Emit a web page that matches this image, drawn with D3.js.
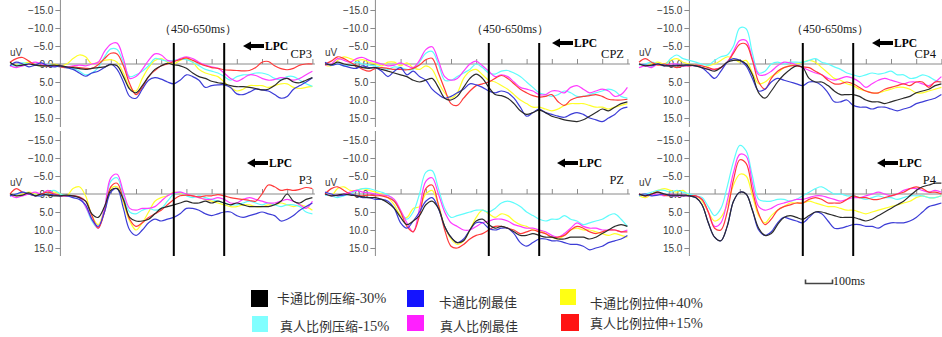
<!DOCTYPE html>
<html>
<head>
<meta charset="utf-8">
<script src="https://cdn.jsdelivr.net/npm/d3@7"></script>
<style>
  body { margin: 0; background: #fff; }
  svg { display: block; }
</style>
</head>
<body>
<svg id="chart" width="942" height="337"></svg>
<script>
// sample times (ms), one value every 25 ms from -200 to 1000
const sampleMs = d3.range(-200, 1001, 25);

// conditions, in the order the series are listed for each channel
const conditions = ['卡通比例压缩-30%', '卡通比例最佳', '卡通比例拉伸+40%',
                    '真人比例压缩-15%', '真人比例最佳', '真人比例拉伸+15%'];
const lineColors = ['#2b2b2b', '#3c3cd6', '#ffff2a', '#5ffcfc', '#ff3cff', '#ff3a3a'];
const swatchColors = ['#000000', '#1414ff', '#ffff14', '#80ffff', '#ff20ff', '#ff1414'];

// amplitudes in uV (positive is drawn downward), per channel: black, blue, yellow, cyan, magenta, red
const CP3 = [
  [-0.5,0.5,0.3,0,0.3,0.5,0.5,0.3,0.5,0.8,1.0,1.3,1.5,1.2,1.0,0.8,0.2,0.5,3.5,7.0,8.0,6.0,3.5,1.5,0.5,-0.2,0.2,0.5,1.2,2.5,3.5,4.0,4.8,5.2,5.5,6.0,6.3,6.3,6.5,6.8,7.2,7.0,6.0,4.5,4.0,5.0,5.2,4.5,3.8],
  [0.5,-0.5,0,0.8,0.3,-0.3,0.5,0.8,0.5,1.0,1.5,2.5,3.4,2.5,2.0,1.0,0,1.5,5.0,9.0,9.5,7.0,4.5,3.8,4.2,5.0,5.5,4.5,3.0,3.5,4.5,6.5,6.0,5.8,5.8,6.5,8.3,8.5,7.8,7.0,7.2,7.5,8.5,9.5,9.0,7.0,6.0,5.0,3.8],
  [0,0.3,0,-0.5,0.3,0.5,0.3,0,0.5,0,-1.5,-2.5,-2.0,0,-0.5,-1.0,-1.2,-0.5,2.5,6.5,7.5,4.0,1.0,-1.0,-1.5,-0.5,0,-1.0,-1.5,-0.5,1.5,2.5,3.0,3.5,5.0,6.5,7.5,7.0,6.0,6.0,6.0,6.5,6.0,5.5,5.5,6.5,6.8,6.5,6.2],
  [0.3,0.5,-0.3,0,0.3,0.5,0,0.5,0.8,1.0,1.2,2.0,3.0,2.5,1.0,-2.0,-4.2,-4.0,-0.5,3.5,3.0,2.0,0.5,-1.5,-1.2,-0.8,-1.0,-1.3,-1.2,-0.5,0.5,1.5,2.0,2.5,3.5,4.5,3.5,3.0,3.0,2.5,2.5,3.0,4.0,4.3,3.5,3.5,4.5,5.5,6.2],
  [0.5,1.0,0.5,0,-0.5,0,0.3,0.5,0.5,0.8,0.5,0.3,0.5,0,-0.5,-3.5,-5.5,-5.8,-1.5,4.0,3.5,1.5,-1.0,-2.8,-2.5,-1.0,-0.8,-1.5,-2.0,-1.5,-0.5,0.3,0.8,1.2,2.5,4.0,4.8,4.0,3.0,3.2,4.0,4.5,4.3,3.8,4.0,4.5,4.0,3.0,2.0],
  [-0.5,-1.5,-1.8,-0.8,0.2,0.4,0.6,0.5,0.8,1.0,0.8,1.0,1.2,1.2,0.2,-1.5,-3.0,-2.8,0.5,5.5,8.5,6.5,3.5,1.8,0.5,0,-0.7,-1.2,-1.7,-1.0,-0.2,0.5,1.0,1.2,1.6,1.7,1.8,1.9,1.8,1.0,-0.5,-0.7,0.5,1.3,1.6,1.2,0.3,0,0]
];
const CPZ = [
  [0,0.2,-0.5,0,0.3,0.5,1.0,1.2,1.0,1.5,2.0,2.5,3.0,3.5,4.5,5.0,4.5,4.0,6.5,9.5,10.0,9.0,6.5,4.0,2.8,4.0,6.5,8.5,8.8,9.5,11.0,13.0,14.0,13.5,12.8,13.5,14.5,15.0,15.5,15.8,16.0,15.5,14.5,13.5,12.5,13.0,12.0,11.0,10.5],
  [-0.5,0.3,0,0.5,1.0,1.2,0.5,1.0,1.0,2.0,3.5,2.0,1.0,3.0,2.0,3.5,4.5,7.0,8.5,9.5,9.0,8.0,7.0,5.5,5.8,6.5,7.5,8.0,7.5,8.0,9.5,12.0,14.5,13.5,12.5,13.5,14.0,14.5,14.8,14.0,13.5,14.0,15.0,15.5,16.0,15.0,14.0,12.5,12.0],
  [0.3,0.5,-1.0,-2.0,-1.5,-1.0,-1.2,-0.5,0,0.5,-0.5,-0.5,0.5,-0.3,1.0,1.5,0.5,1.5,5.0,8.0,9.5,8.0,4.0,2.0,1.5,3.0,4.5,5.0,6.0,7.0,8.5,10.0,11.0,12.0,12.0,12.5,13.0,12.5,11.5,11.0,11.0,11.0,11.5,12.0,12.0,12.5,12.0,11.5,11.0],
  [0,0.3,0,0.5,0.3,-0.5,0,0.3,0.5,1.0,1.5,0.8,1.0,1.5,1.5,-0.5,-3.0,-3.5,0,4.5,4.5,3.5,2.5,1.5,0,1.0,2.5,2.8,2.0,1.8,2.5,3.5,5.0,6.5,8.0,8.5,9.0,8.5,7.5,8.0,9.0,9.0,8.5,8.0,7.5,7.0,7.5,9.0,9.5],
  [0.3,0,-1.5,-1.0,-0.5,-1.5,-1.8,-1.0,-0.5,0,0.5,0.3,-0.3,0.5,1.0,-1.0,-4.0,-4.8,-1.0,3.5,4.5,4.0,2.0,0,-0.8,0.5,2.0,3.5,3.0,3.5,5.0,6.5,7.0,7.5,8.5,8.5,7.5,7.5,8.0,6.5,6.0,7.0,8.0,7.5,7.0,7.5,9.0,8.5,6.5],
  [0,-0.8,-2.0,-1.5,-0.5,0.5,1.5,2.0,1.2,1.0,1.2,1.5,1.5,1.6,1.2,0.3,-1.2,-1.6,2.5,7.0,11.0,11.5,9.5,7.5,6.0,5.5,5.0,4.0,3.2,4.0,5.5,7.0,8.0,8.8,9.2,9.0,8.5,10.5,11.5,10.0,9.3,9.0,8.8,8.5,9.0,9.8,10.0,10.0,9.8]
];
const CP4 = [
  [0,0.5,0.3,0,0.5,0.5,0.5,0.3,0.3,0.5,1.0,1.5,2.0,1.0,-0.5,-1.0,-1.0,0,3.0,8.0,9.5,7.5,5.0,3.0,1.5,0.5,1.0,4.0,5.0,5.0,6.0,7.5,8.5,8.5,8.5,9.0,10.0,10.5,10.5,11.0,10.5,10.0,9.5,9.0,8.0,7.5,7.0,6.0,5.5],
  [0,0.3,0.5,0,0.3,0.5,0.3,0.5,0.3,0.5,1.0,2.5,4.0,2.0,-0.5,-1.5,-1.0,0.5,4.0,7.5,7.0,5.0,4.0,4.5,5.0,5.5,6.0,5.0,5.0,6.0,8.0,10.5,10.5,10.0,11.5,12.0,12.0,12.5,12.0,12.0,12.5,13.0,12.5,12.0,11.0,10.5,10.0,9.5,8.5],
  [0,0.5,0,-0.5,0,-1.0,-1.5,-0.5,0,0.5,1.0,0.5,0,-1.0,-2.0,-1.5,-0.5,-1.0,2.5,5.5,5.0,3.5,2.5,1.0,0.5,0,-0.5,-1.0,-0.5,1.0,2.5,4.0,4.5,5.5,6.0,7.0,7.5,8.0,8.0,7.5,7.0,6.5,6.5,7.0,8.0,8.0,7.5,7.0,6.5],
  [0.3,0,-0.5,0,0.5,-1.5,-2.5,-1.5,-1.0,-0.5,0,0.3,-1.0,-2.0,-2.5,-5.0,-10.0,-9.8,-3.0,2.5,2.0,0,-0.5,0,-0.5,-0.5,-0.5,-1.0,-1.5,-0.5,0,0.8,1.5,2.5,3.0,3.5,3.0,2.5,2.8,2.5,2.0,3.0,3.0,4.0,3.8,3.0,3.5,4.5,5.0],
  [1.0,0.5,1.0,0,0.5,0,0,0.5,0.5,0.5,1.0,1.5,1.5,1.0,-0.5,-3.5,-6.5,-6.5,-1.5,3.0,3.0,2.0,0.5,-0.5,-0.3,0.3,1.0,1.8,2.5,3.0,4.0,4.5,4.0,3.5,4.0,5.0,6.5,5.5,4.5,4.0,4.5,5.0,5.5,5.0,5.0,5.5,6.0,5.0,3.5],
  [-0.5,-1.5,-0.5,0.3,0,0.5,1.0,0.5,0.5,0.3,0.5,1.0,1.5,1.0,-0.5,-3.0,-5.5,-5.5,-1.0,5.0,7.0,4.0,2.0,1.0,0.5,0.5,0.8,1.0,2.0,3.0,4.5,5.5,5.5,5.0,5.5,6.5,7.5,8.0,8.0,7.0,6.5,6.0,5.5,6.0,5.0,5.0,6.5,5.0,5.0]
];
const P3 = [
  [0,0.5,0.3,-0.3,0.5,0,0.3,0.5,0.5,0.3,0.5,1.0,2.0,5.5,6.5,3.5,-1.0,-1.5,1.5,6.5,7.5,7.5,7.0,5.5,4.0,3.5,3.0,2.5,2.0,2.5,2.5,2.0,2.5,2.0,2.5,3.0,2.5,3.0,3.5,3.5,3.5,3.5,3.0,2.0,0,2.0,2.5,1.5,1.0],
  [0.5,0,-0.5,0,0.5,0.5,0,0.3,0.5,0.5,1.0,1.5,3.0,7.0,9.0,5.0,-0.5,-1.5,4.0,10.0,11.5,10.0,8.0,7.0,7.5,7.0,6.5,5.5,4.0,4.0,4.5,5.5,6.0,5.5,5.0,5.0,6.0,6.5,6.0,5.5,5.0,5.5,6.0,7.5,7.0,6.0,4.5,3.5,2.5],
  [0,0.5,0,-0.5,0,0.5,0,-0.5,0,0.5,-1.5,-2.0,0.5,6.0,8.5,4.0,-1.5,-2.0,2.5,7.5,10.0,8.0,5.0,2.0,1.0,0.5,-0.5,-0.3,0.3,0.5,1.0,1.5,2.0,2.5,3.0,3.5,3.5,3.0,3.0,3.5,3.5,3.0,3.0,2.5,3.0,3.5,3.0,3.5,4.5],
  [0.5,0,-0.5,0,0.3,0.5,-0.5,-1.0,0,0.5,0.5,1.0,3.5,7.5,9.5,4.0,-3.5,-4.5,0.5,5.0,5.5,4.5,4.0,4.5,4.0,2.0,0,-0.5,0.5,1.0,0.5,1.0,1.5,2.0,2.5,3.0,3.0,2.5,2.0,2.5,3.0,2.5,3.0,3.5,3.0,3.0,3.5,5.0,5.5],
  [0.3,1.0,0.5,0,-0.5,0,-1.0,0,0.5,0.5,0.5,1.0,3.5,7.0,9.5,4.0,-4.5,-5.5,-0.5,4.0,4.5,4.0,4.0,3.5,2.0,0.5,-0.3,-0.5,0,0.5,1.0,1.5,1.5,1.0,1.5,2.5,2.5,1.5,1.0,1.5,2.0,2.5,2.5,2.0,1.5,2.0,3.0,4.0,2.0],
  [0,-1.5,-0.5,0,0.5,0,-0.5,0,0.5,0.5,0.5,0.8,2.0,6.0,9.5,5.0,-2.0,-3.0,1.5,7.0,9.0,8.0,6.5,5.5,4.5,3.0,1.5,0.5,0.3,0.5,0.8,0.5,0.5,0.2,0.5,1.0,1.3,1.5,1.8,2.0,0,-2.5,-2.0,-1.0,-1.3,-1.0,-1.3,-1.8,-1.5]
];
const PZ = [
  [0,0.5,0.3,0,0.3,0.5,0.8,1.0,1.0,1.5,2.5,4.0,6.5,8.5,7.5,6.0,3.0,2.0,4.0,9.0,12.0,13.5,13.0,10.0,7.5,7.0,8.5,9.5,9.0,9.5,10.5,11.5,11.5,11.0,11.5,12.0,12.0,12.5,12.5,12.0,12.0,12.0,12.5,12.0,11.0,10.0,9.0,8.5,9.0],
  [-0.5,0,0.5,0.3,0,0.5,1.0,1.0,1.5,1.5,2.0,4.0,8.0,9.5,7.5,5.0,2.0,1.0,4.0,9.0,12.0,13.5,12.5,10.0,8.0,8.0,9.5,10.0,9.5,9.5,11.0,13.5,14.5,13.5,12.5,12.5,13.0,13.0,13.5,14.0,14.0,14.5,15.5,15.0,14.5,13.5,13.0,12.5,11.5],
  [0,0.5,-1.5,-2.0,-1.0,-1.0,-1.5,-1.0,-0.5,0,1.0,3.0,6.0,6.5,4.0,3.5,0,-1.0,3.0,9.0,12.5,14.0,13.0,10.0,6.5,4.5,5.5,6.5,5.5,6.0,7.5,8.5,9.0,10.0,10.0,11.0,12.0,12.5,11.5,10.0,9.5,10.0,10.0,10.5,11.0,11.5,11.0,11.5,12.0],
  [0.3,0.5,1.0,0.5,0,-1.0,-1.5,-1.5,-1.0,-0.5,0.3,2.0,5.0,7.0,5.0,0,-6.0,-6.5,-1.5,4.0,6.5,6.0,5.5,5.0,4.5,4.5,5.0,4.0,2.5,2.0,2.5,3.5,5.0,6.0,7.0,7.5,7.0,7.0,6.0,7.0,7.5,8.5,8.0,7.5,7.0,6.0,5.5,7.0,9.0],
  [0,0.5,0.3,0,-0.5,-1.0,-0.5,-0.3,0,0.3,0.5,1.5,4.5,8.0,10.5,4.0,-3.5,-4.5,0,5.0,8.0,9.0,10.0,10.0,9.0,8.0,7.5,7.0,7.0,7.5,8.5,9.0,9.5,9.5,10.0,10.5,11.5,12.0,11.0,9.5,8.0,9.0,9.5,9.5,10.0,10.0,10.0,10.5,10.0],
  [0,-1.5,-2.0,-1.0,0,0.5,0.5,0.3,0.5,0.5,1.0,2.0,5.0,9.0,10.5,6.0,-1.5,-2.5,3.0,10.0,14.5,15.0,14.0,12.5,11.5,11.0,10.0,9.0,9.0,9.5,10.0,11.0,10.5,10.0,10.5,11.0,12.0,12.0,11.5,10.0,9.0,9.5,10.5,11.0,10.5,10.0,10.0,10.5,10.5]
];
const P4 = [
  [0,0.5,0,-0.5,0,0.3,0.3,0.5,0.5,1.0,3.0,8.0,12.0,13.0,9.0,2.0,-0.5,0,4.5,9.5,11.5,11.0,8.5,6.5,6.0,6.5,7.0,6.0,5.0,5.0,5.5,6.0,6.5,6.5,6.5,7.0,7.5,7.0,6.0,5.0,4.0,3.0,2.0,0.5,-1.0,-2.0,-2.5,-3.0,-3.0],
  [0.3,0,0.5,0.3,0,0.5,0.5,0.3,0.5,1.0,3.0,8.0,12.0,13.0,9.0,2.0,-0.5,0,4.5,10.0,11.5,10.5,8.0,6.5,7.0,7.5,8.0,6.5,5.0,5.5,7.5,9.5,9.5,9.0,8.5,8.5,9.0,9.0,9.5,8.5,8.0,8.0,8.0,7.5,6.5,5.0,3.5,3.0,2.5],
  [0.5,1.0,0,-1.0,-1.5,-1.0,-0.5,-1.0,0.5,0.5,2.0,5.0,7.5,6.5,3.0,-2.5,-5.5,-5.0,0.5,6.0,8.0,6.0,4.5,3.5,2.5,2.5,2.5,2.0,2.5,3.0,3.5,3.5,4.0,4.5,4.5,5.0,5.5,5.0,4.5,4.0,3.5,3.0,2.5,2.0,1.0,0.5,1.0,1.0,0.5],
  [0.5,0,-0.5,-1.0,-1.0,-0.5,-1.0,-0.5,0,0.5,1.0,3.5,6.0,4.0,-2.0,-9.0,-13.5,-12.0,-5.0,1.5,2.0,2.0,1.5,1.5,2.0,1.5,0.5,-0.5,-1.5,-2.0,-1.0,0,0,0.5,0.5,1.0,1.5,1.0,0.5,1.0,1.0,1.5,1.0,0.5,0.5,0.5,1.0,1.0,0.5],
  [0,0.5,0.3,0,0.5,0,0.5,0.5,0.5,0.5,1.5,5.0,9.0,8.0,2.0,-6.0,-11.0,-10.5,-3.0,3.5,4.5,4.0,3.0,2.5,2.0,1.5,1.5,1.0,0.5,0.5,1.0,1.5,2.0,1.5,1.0,1.0,0.5,0,-0.5,0,0.5,0,-1.0,-1.5,-1.5,-1.0,-0.5,-1.0,-0.5],
  [0,0.5,0,-0.5,0.3,0.5,0.5,0.3,0.5,0.5,1.5,5.0,9.5,10.0,5.0,-4.0,-9.5,-8.5,-1.0,5.5,8.5,7.0,4.5,3.5,3.0,2.5,2.5,1.5,1.0,1.5,2.5,2.5,2.5,1.5,0.5,1.0,1.0,1.5,1.5,1.0,0.5,0,-0.5,-1.5,-2.0,-1.5,-0.5,-0.5,0]
];

const yTicks = [-15, -10, -5, 0, 5, 10, 15];
const xTicks = [100, 200, 300, 400, 500, 600, 700, 800, 900, 1000];
const windowMs = [450, 650];

// layout
const colLeft = [10, 325, 639];      // x of -200 ms in each column
const rowZero = [64, 194];           // y of 0 uV in each row
const pxPerMs = 0.252;
const pxPerUv = 3.6;
const nameRight = [312, 624, 936];
const lpcX = [[243, 552, 872], [247, 557, 877]];
const lpcY = [[46, 43, 43], [163, 163, 163]];
const windowLabelX = [198, 510, 830];

const panels = [
  {name: 'CP3', col: 0, row: 0, data: CP3},
  {name: 'CPZ', col: 1, row: 0, data: CPZ},
  {name: 'CP4', col: 2, row: 0, data: CP4},
  {name: 'P3',  col: 0, row: 1, data: P3},
  {name: 'PZ',  col: 1, row: 1, data: PZ},
  {name: 'P4',  col: 2, row: 1, data: P4}
];

const svg = d3.select('#chart');
const axisGrey = '#8a8a8a';
const labelColor = '#3a3a3a';
const serif = '"Liberation Serif", "Times New Roman", serif';
const sans = '"Liberation Sans", Arial, sans-serif';
const cjk = '"Noto Sans CJK SC", sans-serif';

function arrow(g, x0, yc) {
    // left-pointing block arrow
    g.append('path')
        .attr('d', `M${x0},${yc} L${x0 + 8},${yc - 4.5} L${x0 + 8},${yc - 2} L${x0 + 21},${yc - 2}`
            + ` L${x0 + 21},${yc + 2} L${x0 + 8},${yc + 2} L${x0 + 8},${yc + 4.5} Z`)
        .attr('fill', '#000');
}

panels.forEach(p => {
    let left = colLeft[p.col];
    let zero = rowZero[p.row];

    let x = d3.scaleLinear()
        .domain([-200, 1000])
        .range([left, left + 1200 * pxPerMs]);
    let y = d3.scaleLinear()
        .domain([-15, 15])
        .range([zero - 15 * pxPerUv, zero + 15 * pxPerUv]);

    let g = svg.append('g').attr('class', 'panel');

    // y axis: line runs past the outer ticks
    let yTop = p.row === 0 ? 0 : 131;
    let yBot = p.row === 0 ? 127 : 256;
    g.append('line')
        .attr('x1', x(0)).attr('x2', x(0))
        .attr('y1', yTop).attr('y2', yBot)
        .attr('stroke', axisGrey).attr('stroke-width', 1);

    let yAxis = d3.axisLeft(y)
        .tickValues(yTicks)
        .tickFormat(d3.format('.1f'))
        .tickSize(5)
        .tickPadding(2);
    let ya = g.append('g')
        .attr('transform', `translate(${x(0)},0)`)
        .call(yAxis);
    ya.select('.domain').remove();
    ya.selectAll('.tick line').attr('stroke', axisGrey);
    ya.selectAll('.tick text')
        .attr('fill', labelColor)
        .style('font-family', sans)
        .style('font-size', '10px');

    // x axis at 0 uV, ticks pointing up
    g.append('line')
        .attr('x1', left).attr('x2', x(1010))
        .attr('y1', zero).attr('y2', zero)
        .attr('stroke', axisGrey).attr('stroke-width', 1);
    let xAxis = d3.axisTop(x)
        .tickValues(xTicks)
        .tickFormat('')
        .tickSize(5);
    let xa = g.append('g')
        .attr('transform', `translate(0,${zero})`)
        .call(xAxis);
    xa.select('.domain').remove();
    xa.selectAll('.tick line').attr('stroke', axisGrey);

    g.append('text')
        .attr('x', left).attr('y', zero - 8)
        .attr('fill', labelColor)
        .style('font-family', sans)
        .style('font-size', '10px')
        .text('uV');

    // waveforms
    let line = d3.line()
        .x((d, i) => x(sampleMs[i]))
        .y(d => y(d))
        .curve(d3.curveCatmullRom);
    let drawOrder = [2, 3, 4, 5, 1, 0];
    g.selectAll('path.wave')
        .data(drawOrder.map(k => ({k: k, values: p.data[k]})))
        .join('path')
        .attr('class', 'wave')
        .attr('d', d => line(d.values))
        .attr('fill', 'none')
        .attr('stroke', d => lineColors[d.k])
        .attr('stroke-width', 1.2);

    // time window markers
    g.selectAll('line.win')
        .data(windowMs)
        .join('line')
        .attr('class', 'win')
        .attr('x1', d => x(d)).attr('x2', d => x(d))
        .attr('y1', p.row === 0 ? 43 : 131)
        .attr('y2', p.row === 0 ? 131 : 256)
        .attr('stroke', '#000')
        .attr('stroke-width', 2);

    // channel name
    g.append('text')
        .attr('x', nameRight[p.col])
        .attr('y', p.row === 0 ? zero - 6 : zero - 10)
        .attr('text-anchor', 'end')
        .attr('fill', '#111')
        .style('font-family', serif)
        .style('font-size', '12.5px')
        .text(p.name);

    // LPC arrow
    let ay = lpcY[p.row][p.col];
    let ax = lpcX[p.row][p.col];
    arrow(g, ax, ay);
    g.append('text')
        .attr('x', ax + 22).attr('y', ay + 4)
        .attr('fill', '#000')
        .style('font-family', serif)
        .style('font-weight', 'bold')
        .style('font-size', '11.5px')
        .text('LPC');

    if (p.row === 0) {
        g.append('text')
            .attr('x', windowLabelX[p.col]).attr('y', 33)
            .attr('text-anchor', 'middle')
            .attr('fill', '#222')
            .style('font-family', serif)
            .style('font-size', '12px')
            .text('（450-650ms）');
    }
});

// scale bar
let bar = svg.append('g');
bar.append('path')
    .attr('d', 'M805.5,279.5 V283.5 H832.5 V279.5')
    .attr('fill', 'none')
    .attr('stroke', '#444')
    .attr('stroke-width', 1.6);
bar.append('text')
    .attr('x', 833).attr('y', 285)
    .attr('fill', '#222')
    .style('font-family', serif)
    .style('font-size', '12px')
    .text('100ms');

// legend: swatch boxes [x, y, w, h] and text anchors [x, baseline], by condition
const swatchBox = [[251, 290, 17, 17], [407, 290, 17, 17], [560, 289, 16, 16],
                   [252, 316, 16, 16], [407, 315, 17, 16], [561, 314, 18, 17]];
const legendText = [[277, 303], [439, 307], [590, 308], [280, 331], [440, 331], [590, 328]];
let legend = svg.append('g').attr('class', 'legend');
conditions.forEach((label, k) => {
    let b = swatchBox[k];
    legend.append('rect')
        .attr('x', b[0]).attr('y', b[1])
        .attr('width', b[2]).attr('height', b[3])
        .attr('fill', swatchColors[k]);
    let parts = label.match(/^([^\-+]+)(.*)$/);
    let t = legend.append('text')
        .attr('x', legendText[k][0])
        .attr('y', legendText[k][1])
        .attr('fill', '#333');
    t.append('tspan').style('font-family', cjk).style('font-size', '13px').text(parts[1]);
    if (parts[2]) t.append('tspan').style('font-family', serif).style('font-size', '14.5px').text(parts[2]);
});
</script>
</body>
</html>
